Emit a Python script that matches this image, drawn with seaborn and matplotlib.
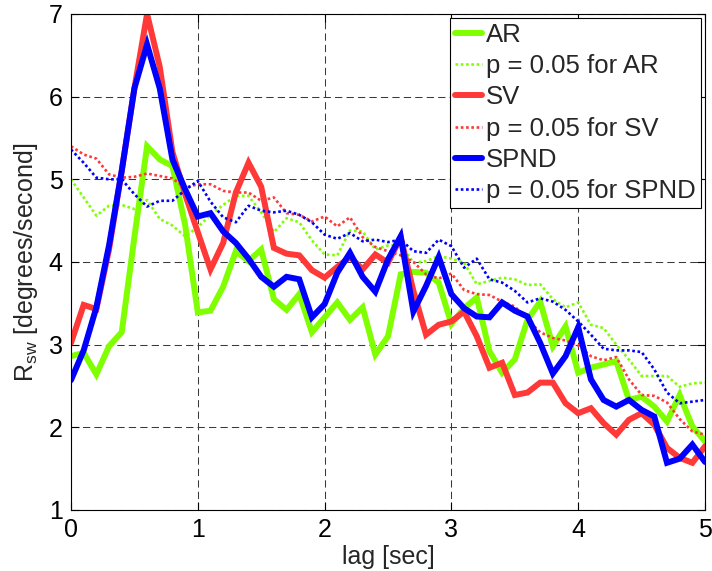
import numpy as np
import pandas as pd
import matplotlib
matplotlib.use("Agg")
import matplotlib.pyplot as plt
import seaborn as sns

lag = np.round(np.arange(0, 5.01, 0.1), 1)

ar = [2.86, 2.90, 2.64, 2.98, 3.15, 4.30, 5.40, 5.24, 5.16, 4.45,
      3.39, 3.41, 3.70, 4.13, 4.01, 4.15, 3.55, 3.42, 3.61, 3.15,
      3.33, 3.51, 3.30, 3.45, 2.88, 3.10, 3.85, 3.88, 3.87, 3.75,
      3.25, 3.44, 3.57, 2.92, 2.66, 2.82, 3.30, 3.52, 2.98, 3.22,
      2.66, 2.72, 2.76, 2.80, 2.33, 2.37, 2.25, 2.07, 2.39, 2.01, 1.83]
ar_p = [5.00, 4.78, 4.56, 4.68, 4.69, 4.64, 4.75, 4.52, 4.44, 4.31,
        4.42, 4.57, 4.69, 4.80, 4.80, 4.60, 4.36, 4.53, 4.48, 4.26,
        4.09, 4.08, 4.38, 4.37, 4.15, 4.20, 4.21, 3.99, 4.01, 4.07,
        4.04, 3.99, 3.73, 3.77, 3.81, 3.79, 3.72, 3.73, 3.55, 3.45,
        3.51, 3.24, 3.20, 3.00, 2.82, 2.62, 2.62, 2.62, 2.49, 2.53, 2.54]
sv = [3.02, 3.48, 3.43, 4.15, 5.10, 6.10, 7.00, 6.36, 5.33, 4.82,
      4.36, 3.91, 4.23, 4.84, 5.20, 4.91, 4.17, 4.10, 4.08, 3.90,
      3.81, 3.94, 4.06, 3.91, 4.09, 3.99, 4.30, 3.65, 3.12, 3.24,
      3.28, 3.40, 3.10, 2.72, 2.78, 2.39, 2.42, 2.54, 2.54, 2.29,
      2.17, 2.23, 2.05, 1.91, 2.09, 2.17, 2.03, 1.75, 1.63, 1.57, 1.77]
sv_p = [5.40, 5.30, 5.25, 5.06, 5.02, 5.03, 5.07, 5.04, 5.01, 4.90,
        4.94, 4.94, 4.86, 4.84, 4.84, 4.74, 4.78, 4.59, 4.57, 4.49,
        4.55, 4.43, 4.54, 4.30, 4.18, 4.13, 4.08, 4.00, 3.85, 3.80,
        3.86, 3.66, 3.61, 3.60, 3.52, 3.46, 3.30, 3.15, 3.08, 3.05,
        2.99, 2.86, 2.81, 2.85, 2.58, 2.39, 2.38, 2.30, 2.10, 1.95, 1.91]
spnd = [2.57, 2.93, 3.45, 4.20, 5.10, 6.10, 6.63, 6.10, 5.24, 4.88,
        4.55, 4.59, 4.37, 4.23, 4.04, 3.82, 3.70, 3.82, 3.79, 3.33,
        3.49, 3.87, 4.11, 3.82, 3.64, 4.03, 4.31, 3.40, 3.71, 4.06,
        3.61, 3.44, 3.34, 3.33, 3.51, 3.41, 3.34, 3.02, 2.65, 2.86,
        3.21, 2.58, 2.33, 2.25, 2.33, 2.21, 2.13, 1.57, 1.62, 1.79, 1.58]
spnd_p = [5.36, 5.20, 5.02, 5.00, 5.00, 4.82, 4.67, 4.74, 4.74, 4.87,
          4.98, 4.73, 4.54, 4.48, 4.68, 4.62, 4.60, 4.62, 4.57, 4.48,
          4.33, 4.28, 4.35, 4.25, 4.27, 4.24, 4.27, 4.13, 4.11, 4.27,
          4.19, 3.93, 4.04, 3.79, 3.75, 3.65, 3.51, 3.56, 3.52, 3.42,
          3.28, 3.12, 2.95, 2.93, 2.93, 2.91, 2.70, 2.42, 2.29, 2.31, 2.33]

labels = ["AR", "p = 0.05 for AR", "SV", "p = 0.05 for SV",
          "SPND", "p = 0.05 for SPND"]
series = [ar, ar_p, sv, sv_p, spnd, spnd_p]

sns.set_style("ticks")
plt.rcParams["font.family"] = ["Liberation Sans", "DejaVu Sans"]
plt.rcParams["mathtext.default"] = "regular"
plt.rcParams["font.size"] = 18

green = "#80FF00"
red = "#FF3838"
blue = "#0000FF"
colors = [green, green, red, red, blue, blue]
dotted = (0, (1, 1))

fig = plt.figure(figsize=(7.12, 5.71), dpi=100)
ax = fig.add_axes([0.0997, 0.107, 0.8905, 0.8685])

for lab, vals, col in zip(labels, series, colors):
    df = pd.DataFrame({"lag": lag, "val": vals})
    is_p = lab.startswith("p")
    sns.lineplot(data=df, x="lag", y="val", ax=ax, color=col,
                 linewidth=1.9 if is_p else 4.3,
                 linestyle=dotted if is_p else "-",
                 label=lab, solid_joinstyle="miter")

ax.set_xlim(0, 5)
ax.set_ylim(1, 7)
ax.set_xticks(range(0, 6))
ax.set_yticks(range(1, 8))
ax.grid(True, color="#3a3a3a", linestyle=(0, (7, 4)), linewidth=0.75)
ax.set_axisbelow(True)
ax.tick_params(direction="in", length=6, width=0.8, top=True, right=True,
               labelsize=18, pad=6, colors="black")
for s in ax.spines.values():
    s.set_visible(True)
    s.set_color("black")
    s.set_linewidth(0.8)

ax.set_xlabel("lag [sec]", fontsize=18, labelpad=2)
ax.set_ylabel("R$_{sw}$ [degrees/second]", fontsize=18, labelpad=6)

leg = ax.legend(loc="upper right", fontsize=18.5, frameon=True, fancybox=False,
                edgecolor="black", framealpha=1, borderpad=0.2,
                labelspacing=0.28, handlelength=1.05, handletextpad=0.15,
                borderaxespad=0.15)
leg.get_frame().set_linewidth(0.8)

fig.savefig("out.png", dpi=100)
